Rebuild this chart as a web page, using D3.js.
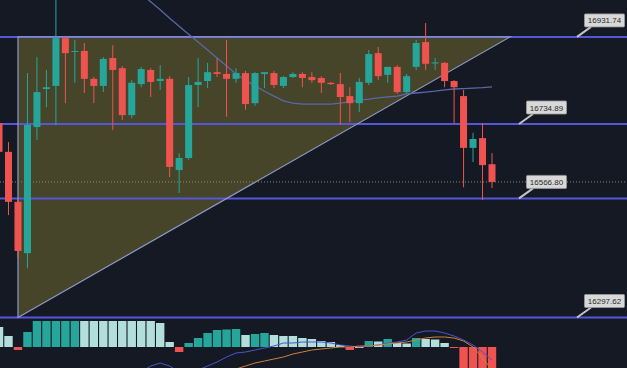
<!DOCTYPE html>
<html>
<head>
<meta charset="utf-8">
<script src="https://cdn.jsdelivr.net/npm/d3@7"></script>
<style>
  html, body { margin: 0; padding: 0; background: #151924; overflow: hidden; }
  svg { display: block; }
</style>
</head>
<body>
<div id="chart"></div>
<script>
// candles, oldest first (index 0 is cut by the left edge)
var opens  = [16737,16672,16559,16443,16728,16814,16821,16929,16898,16900,16837,16821,16884,16861,16755,16825,16857,16832,16837,16631,16658,16823,16832,16852,16848,16837,16850,16782,16848,16850,16821,16841,16848,16841,16839,16828,16825,16798,16782,16828,16895,16846,16864,16807,16864,16920,16872,16873,16832,16798,16681,16703,16644];
var highs  = [16744,16694,16563,16850,16886,16857,17020,16934,16925,16918,16841,16886,16913,16866,16834,16864,16861,16868,16843,16669,16841,16884,16873,16884,16925,16861,16855,16852,16852,16855,16843,16852,16852,16852,16843,16830,16850,16818,16839,16902,16909,16864,16868,16848,16925,16963,16884,16875,16834,16812,16715,16737,16669];
var lows   = [16665,16529,16432,16409,16699,16773,16733,16782,16828,16805,16782,16807,16721,16744,16748,16818,16796,16812,16615,16579,16654,16773,16816,16841,16751,16828,16767,16776,16816,16816,16816,16839,16818,16828,16805,16823,16733,16739,16762,16823,16834,16828,16803,16803,16857,16857,16857,16818,16737,16592,16649,16563,16590];
var closes = [16672,16559,16448,16733,16807,16818,16929,16895,16900,16837,16821,16882,16857,16755,16828,16859,16830,16837,16638,16658,16823,16830,16852,16848,16837,16850,16780,16850,16852,16823,16841,16848,16839,16834,16828,16825,16796,16782,16830,16893,16843,16864,16807,16843,16918,16871,16874,16832,16818,16681,16701,16642,16604];

// moving average, starts at candle 15
var maStart = 15;
var maValues = [17029,17011,16993,16974,16956,16938,16920,16902,16884,16866,16848,16834,16821,16809,16798,16787,16782,16780,16780,16780,16780,16782,16785,16789,16791,16794,16796,16798,16803,16805,16807,16809,16812,16814,16815,16816,16817,16819];

// marked levels
var levels = [16931.74, 16734.89, 16566.80, 16297.62];
var levelLabels = ["16931.74", "16734.89", "16566.80", "16297.62"];

// triangle corners: candle index, price
var triIndex = [2, 53.9, 2];
var triPrice = [16931.74, 16931.74, 16297.62];

// MACD pane
var histValues = [40,22,-6,30,56,62,66,70,72,71,69,66,63,60,57,54,52,48,10,-10,8,18,28,34,35,36,24,26,28,24,22,22,18,16,12,10,4,-6,-2,12,11,16,8,7,18,16,15,8,-2,-50,-56,-62,-66];
var macdStart = 15;
var macdValues = [-50,-38,-32,-38,-50,-54,-46,-38,-30,-20,-12,-10,-6,-2,2,8,8,10,10,10,8,4,2,0,2,4,8,10,14,28,32,32,28,22,14,4,-10,-26];
var signalStart = 21;
var signalValues = [-74,-66,-58,-52,-44,-38,-32,-28,-24,-20,-14,-10,-6,-4,-2,0,0,2,2,4,6,8,10,14,18,20,20,18,12,0,-22,-46];

var W = 627, H = 368;
var up = "#26a69a", down = "#ef5350";

var svg = d3.select("#chart").append("svg")
    .attr("width", W).attr("height", H);

svg.append("rect").attr("width", W).attr("height", H).attr("fill", "#151924");

var defs = svg.append("defs");
defs.append("clipPath").attr("id", "mainClip")
    .append("rect").attr("x", 0).attr("y", 0).attr("width", W).attr("height", 319);
defs.append("clipPath").attr("id", "macdClip")
    .append("rect").attr("x", 0).attr("y", 321).attr("width", W).attr("height", H - 321);

var x = d3.scaleLinear().domain([1, 52]).range([8.5, 492]);
var y = d3.scaleLinear().domain([16297.62, 16931.74]).range([317.5, 36.9]);
var ym = d3.scaleLinear().domain([0, 50]).range([347, 322]);

var main = svg.append("g").attr("clip-path", "url(#mainClip)");

// triangle
var tri = triIndex.map(function (d, i) { return [x(d), y(triPrice[i])]; });
main.append("path")
    .attr("d", d3.line()(tri) + "Z")
    .attr("fill", "rgba(130,125,50,0.45)")
    .attr("stroke", "none");

// level lines
main.selectAll(".level")
    .data(levels)
    .enter()
    .append("line")
    .attr("class", "level")
    .attr("x1", 0).attr("x2", W)
    .attr("y1", function (d) { return y(d); })
    .attr("y2", function (d) { return y(d); })
    .attr("stroke", "#5656dc")
    .attr("stroke-width", 2);

// triangle edges
main.append("path")
    .attr("d", d3.line()(tri) + "Z")
    .attr("fill", "none")
    .attr("stroke", "#8e9ac8")
    .attr("stroke-width", 1.2);

// last price dotted line
main.append("line")
    .attr("x1", 0).attr("x2", W)
    .attr("y1", y(closes[closes.length - 1]))
    .attr("y2", y(closes[closes.length - 1]))
    .attr("stroke", "#8c8c78")
    .attr("stroke-dasharray", "1,2");

// moving average
main.append("path")
    .datum(maValues)
    .attr("d", d3.line()
        .x(function (d, i) { return x(i + maStart); })
        .y(function (d) { return y(d); }))
    .attr("fill", "none")
    .attr("stroke", "#5a67a8")
    .attr("stroke-width", 1.3);

// candles
var candles = main.selectAll(".candle")
    .data(opens)
    .enter()
    .append("g")
    .attr("class", "candle");

candles.append("line")
    .attr("x1", function (d, i) { return x(i); })
    .attr("x2", function (d, i) { return x(i); })
    .attr("y1", function (d, i) { return y(highs[i]); })
    .attr("y2", function (d, i) { return y(lows[i]); })
    .attr("stroke", function (d, i) { return closes[i] >= d ? up : down; })
    .attr("stroke-width", 1);

candles.append("rect")
    .attr("x", function (d, i) { return x(i) - 3.5; })
    .attr("width", 7)
    .attr("y", function (d, i) { return y(Math.max(d, closes[i])); })
    .attr("height", function (d, i) { return Math.max(1, Math.abs(y(d) - y(closes[i]))); })
    .attr("fill", function (d, i) { return closes[i] >= d ? up : down; });

// level labels
var labelAnchorX = [577, 519, 519, 577];
var labels = svg.selectAll(".lbl")
    .data(levels)
    .enter()
    .append("g")
    .attr("class", "lbl");

labels.append("line")
    .attr("x1", function (d, i) { return labelAnchorX[i]; })
    .attr("y1", function (d) { return y(d); })
    .attr("x2", function (d, i) { return labelAnchorX[i] + 14; })
    .attr("y2", function (d) { return y(d) - 10; })
    .attr("stroke", "#c4c4c4")
    .attr("stroke-width", 2);

labels.append("rect")
    .attr("x", function (d, i) { return labelAnchorX[i] + 7.5; })
    .attr("y", function (d) { return y(d) - 23; })
    .attr("width", 40)
    .attr("height", 13)
    .attr("rx", 1)
    .attr("fill", "#d8d8d8")
    .attr("stroke", "#9a9a9a")
    .attr("stroke-width", 0.8);

labels.append("text")
    .attr("x", function (d, i) { return labelAnchorX[i] + 27.5; })
    .attr("y", function (d) { return y(d) - 13.5; })
    .attr("text-anchor", "middle")
    .attr("font-family", "Liberation Sans, Arial, sans-serif")
    .attr("font-size", 8)
    .attr("fill", "#2a2a2a")
    .text(function (d, i) { return levelLabels[i]; });

// MACD pane
var macd = svg.append("g").attr("clip-path", "url(#macdClip)");

macd.selectAll(".hist")
    .data(histValues)
    .enter()
    .append("rect")
    .attr("class", "hist")
    .attr("x", function (d, i) { return x(i) - 4.2; })
    .attr("width", 8.4)
    .attr("y", function (d) { return d >= 0 ? ym(d) : ym(0); })
    .attr("height", function (d) { return Math.abs(ym(d) - ym(0)); })
    .attr("fill", function (d, i) {
        var prev = i > 0 ? histValues[i - 1] : Infinity;
        if (d >= 0) return d > prev ? "#26a69a" : "#b2dfdb";
        return d < prev ? "#ef5350" : "#ffcdd2";
    });

macd.append("path")
    .datum(macdValues)
    .attr("d", d3.line()
        .x(function (d, i) { return x(i + macdStart); })
        .y(function (d) { return ym(d); }))
    .attr("fill", "none")
    .attr("stroke", "#4b55cc")
    .attr("stroke-width", 1);

macd.append("path")
    .datum(signalValues)
    .attr("d", d3.line()
        .x(function (d, i) { return x(i + signalStart); })
        .y(function (d) { return ym(d); }))
    .attr("fill", "none")
    .attr("stroke", "#d0803c")
    .attr("stroke-width", 1);
</script>
</body>
</html>
